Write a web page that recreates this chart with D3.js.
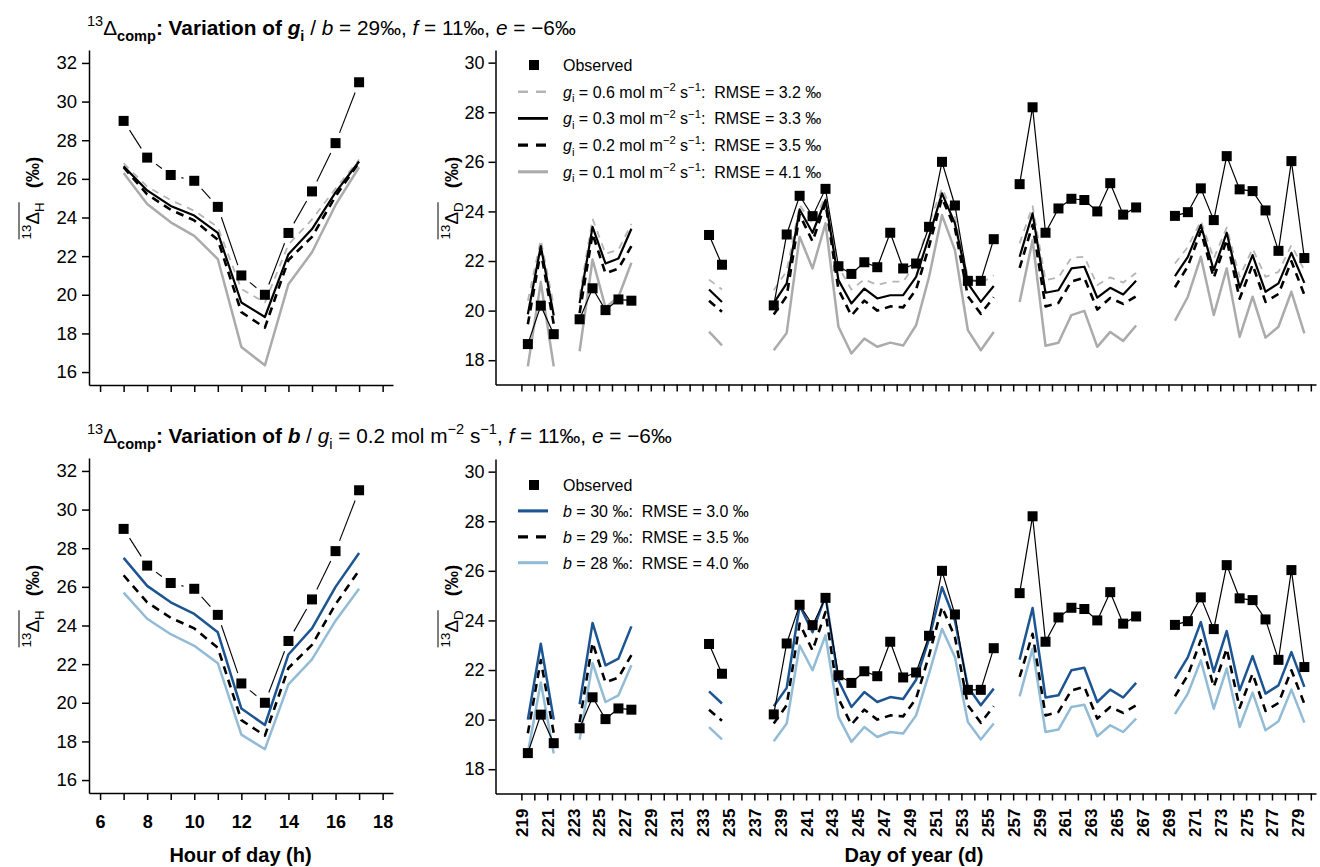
<!DOCTYPE html>
<html>
<head>
<meta charset="utf-8">
<script src="https://cdn.jsdelivr.net/npm/d3@7"></script>
<style>
  body { margin: 0; background: #fff; }
  svg { font-family: "Liberation Sans", Arial, sans-serif; }
  text { white-space: pre; }
</style>
</head>
<body>
<svg id="chart" width="1320" height="867"></svg>
<script>
// ---- data: hourly means ----
var hours = [7, 8, 9, 10, 11, 12, 13, 14, 15, 16, 17];
var obsHour  = [29.0, 27.1, 26.2, 25.9, 24.55, 21.0, 20.0, 23.2, 25.35, 27.85, 31.0];
var gi06Hour = [26.8, 25.6, 24.9, 24.35, 23.5, 20.3, 19.6, 22.6, 23.9, 25.5, 27.0];
var gi03Hour = [26.65, 25.4, 24.6, 24.1, 23.2, 19.6, 18.85, 22.1, 23.4, 25.3, 26.9];
var gi02Hour = [26.6, 25.2, 24.4, 23.85, 22.85, 19.1, 18.3, 21.8, 23.0, 25.1, 26.85];
var gi01Hour = [26.3, 24.7, 23.75, 23.05, 21.85, 17.3, 16.35, 20.55, 22.2, 24.65, 26.6];
var b30Hour  = [27.5, 26.05, 25.2, 24.6, 23.65, 19.7, 18.85, 22.5, 23.85, 26.0, 27.75];
var b29Hour  = gi02Hour; // same run (gi = 0.2, b = 29)
var b28Hour  = [25.7, 24.35, 23.55, 22.95, 22.05, 18.35, 17.6, 20.95, 22.25, 24.25, 25.9];

// ---- data: daily means ----
var days = [219, 220, 221,
  223, 224, 225, 226, 227,
  233, 234,
  238, 239, 240, 241, 242, 243, 244, 245, 246, 247, 248, 249, 250, 251, 252, 253, 254, 255,
  257, 258, 259, 260, 261, 262, 263, 264, 265, 266,
  269, 270, 271, 272, 273, 274, 275, 276, 277, 278, 279];
var obsDay = [18.65, 20.2, 19.05,
  19.65, 20.9, 20.02, 20.45, 20.4,
  23.05, 21.85,
  20.21, 23.07, 24.63, 23.81, 24.91, 21.79, 21.48, 21.95, 21.75, 23.14, 21.7, 21.9, 23.38, 26.0, 24.24, 21.2, 21.2, 22.88,
  25.1, 28.2, 23.14, 24.12, 24.51, 24.46, 24.0, 25.14, 23.87, 24.16,
  23.82, 23.97, 24.93, 23.65, 26.23, 24.89, 24.82, 24.04, 22.41, 26.03, 22.12];
var gi06Day = [20.4, 22.85, 20.2,
  20.6, 23.7, 22.3, 22.45, 23.5,
  21.25, 20.85,
  20.82, 21.6, 24.25, 23.52, 24.6, 21.77, 20.85, 21.26, 21.03, 21.17, 21.17, 21.9, 23.52, 24.93, 23.78, 21.36, 21.1, 21.43,
  22.71, 24.21, 21.23, 21.34, 22.13, 22.17, 21.03, 21.34, 21.13, 21.52,
  21.9, 22.57, 23.62, 22.1, 23.35, 21.36, 22.5, 21.36, 21.56, 22.64, 21.63];
var gi03Day = [19.85, 22.6, 19.8,
  20.3, 23.38, 21.9, 22.1, 23.3,
  20.85, 20.35,
  20.3, 21.1, 24.08, 23.14, 24.46, 21.23, 20.29, 20.89, 20.49, 20.62, 20.62, 21.36, 22.98, 24.73, 23.52, 21.1, 20.35, 20.99,
  22.17, 23.92, 20.72, 20.82, 21.7, 21.77, 20.52, 20.92, 20.65, 21.2,
  21.39, 22.17, 23.45, 21.63, 23.14, 20.93, 22.24, 20.76, 21.1, 22.33, 21.12];
var gi02Day = [19.45, 22.4, 19.45,
  19.9, 23.1, 21.5, 21.7, 22.6,
  20.4, 19.95,
  19.84, 20.58, 23.87, 22.79, 24.34, 20.85, 19.8, 20.4, 20.0, 20.17, 20.13, 20.85, 22.59, 24.54, 23.33, 20.58, 19.87, 20.54,
  21.72, 23.46, 20.17, 20.31, 21.18, 21.32, 20.04, 20.51, 20.27, 20.58,
  20.94, 21.79, 23.2, 21.32, 22.86, 20.48, 21.85, 20.35, 20.67, 21.99, 20.64];
var gi01Day = [17.75, 21.15, 17.75,
  18.36, 22.06, 20.13, 20.55, 21.93,
  19.15, 18.6,
  18.4, 19.1, 22.98, 21.7, 23.52, 19.35, 18.27, 18.87, 18.54, 18.71, 18.59, 19.41, 21.36, 23.85, 22.44, 19.21, 18.4, 19.14,
  20.35, 22.84, 18.58, 18.7, 19.82, 19.99, 18.54, 19.14, 18.78, 19.4,
  19.59, 20.56, 22.17, 19.82, 21.7, 18.94, 20.56, 18.91, 19.35, 20.76, 19.08];
var b30Day = [20.0, 23.06, 20.0,
  20.62, 23.9, 22.19, 22.46, 23.76,
  21.14, 20.65,
  20.54, 21.28, 24.6, 23.53, 25.0, 21.58, 20.51, 21.11, 20.71, 20.91, 20.83, 21.61, 23.26, 25.34, 24.0, 21.32, 20.58, 21.25,
  22.42, 24.5, 20.89, 20.98, 21.99, 22.09, 20.71, 21.21, 20.89, 21.48,
  21.65, 22.52, 23.93, 21.92, 23.57, 21.18, 22.56, 21.05, 21.38, 22.72, 21.32];
var b29Day = gi02Day;
var b28Day = [18.66, 21.5, 18.63,
  19.2, 22.28, 20.71, 20.98, 22.19,
  19.7, 19.2,
  19.13, 19.84, 22.99, 21.99, 23.4, 20.11, 19.1, 19.7, 19.3, 19.5, 19.44, 20.17, 21.85, 23.66, 22.52, 19.9, 19.2, 19.84,
  20.94, 22.86, 19.5, 19.6, 20.51, 20.6, 19.33, 19.77, 19.5, 20.04,
  20.22, 21.05, 22.39, 20.44, 22.06, 19.7, 21.09, 19.57, 19.93, 21.21, 19.88];

// ---- ticks & legend text ----
var hourTicks = [6, 7, 8, 9, 10, 11, 12, 13, 14, 15, 16, 17, 18];
var hourLabels = [6, 8, 10, 12, 14, 16, 18];
var hourYTicks = [16, 18, 20, 22, 24, 26, 28, 30, 32];
var dayTicks = [219, 220, 221, 222, 223, 224, 225, 226, 227, 228, 229, 230, 231, 232, 233, 234, 235, 236, 237, 238, 239,
  240, 241, 242, 243, 244, 245, 246, 247, 248, 249, 250, 251, 252, 253, 254, 255, 256, 257, 258, 259, 260,
  261, 262, 263, 264, 265, 266, 267, 268, 269, 270, 271, 272, 273, 274, 275, 276, 277, 278, 279, 280];
var dayLabels = [219, 221, 223, 225, 227, 229, 231, 233, 235, 237, 239, 241, 243, 245, 247, 249, 251, 253, 255,
  257, 259, 261, 263, 265, 267, 269, 271, 273, 275, 277, 279];
var dayYTicks = [18, 20, 22, 24, 26, 28, 30];
var giValues = ['0.6', '0.3', '0.2', '0.1'];
var giRmse = ['3.2', '3.3', '3.5', '4.1'];
var bValues = ['30', '29', '28'];
var bRmse = ['3.0', '3.5', '4.0'];

var styles = {
  gi06: { color: '#b5b5b5', width: 1.8, dash: '7,6' },
  gi03: { color: '#000', width: 2.2, dash: null },
  gi02: { color: '#000', width: 2.6, dash: '8,6' },
  gi01: { color: '#ababab', width: 2.5, dash: null },
  b30:  { color: '#1c5592', width: 2.5, dash: null },
  b28:  { color: '#92bcd6', width: 2.5, dash: null }
};

var svg = d3.select('#chart');

function rich(text, parts, size) {
  var cur = 0;
  parts.forEach(function(p) {
    var off = p.sup ? -0.42 * size : (p.sub ? 0.28 * size : 0);
    var ts = text.append('tspan').text(p.t).attr('dy', off - cur);
    cur = off;
    if (p.sup || p.sub) ts.attr('font-size', size * 0.7);
    if (p.b) ts.attr('font-weight', 'bold');
    if (p.i) ts.attr('font-style', 'italic');
  });
}

function styleAxis(ax, size, bold) {
  ax.selectAll('path, line').attr('stroke', '#000').attr('stroke-width', 1.5);
  ax.selectAll('text').attr('font-size', size).attr('fill', '#000')
    .attr('font-family', '"Liberation Sans", Arial, sans-serif')
    .attr('font-weight', bold ? 'bold' : 'normal');
}

function yTitle(x, yc, sub) {
  var fs = 19;
  var lab = svg.append('g').attr('transform', 'translate(' + x + ',' + yc + ') rotate(-90)');
  var t1 = lab.append('text').attr('font-size', fs);
  rich(t1, [{ t: '13', sup: 1 }, { t: 'Δ' }, { t: sub, sub: 1 }], fs);
  var w1 = t1.node().getComputedTextLength();
  var t2 = lab.append('text').attr('x', w1 + 14).attr('font-size', fs).attr('font-weight', 'bold').text('(‰)');
  var total = w1 + 14 + t2.node().getComputedTextLength();
  lab.selectAll('text').attr('transform', 'translate(' + (-total / 2) + ',0)');
  lab.append('line')
    .attr('x1', -total / 2).attr('x2', -total / 2 + w1)
    .attr('y1', -fs - 1).attr('y2', -fs - 1)
    .attr('stroke', '#000').attr('stroke-width', 1);
}

function gapSegments(pts, gap) {
  var out = [];
  for (var i = 1; i < pts.length; i++) {
    var x1 = pts[i - 1][0], y1 = pts[i - 1][1], x2 = pts[i][0], y2 = pts[i][1];
    var L = Math.hypot(x2 - x1, y2 - y1);
    if (L <= 2 * gap) continue;
    var ux = (x2 - x1) / L, uy = (y2 - y1) / L;
    out.push([x1 + ux * gap, y1 + uy * gap, x2 - ux * gap, y2 - uy * gap]);
  }
  return out;
}

function squares(g, pts, size) {
  g.selectAll(null).data(pts).enter().append('rect')
    .attr('x', function(d) { return d[0] - size / 2; })
    .attr('y', function(d) { return d[1] - size / 2; })
    .attr('width', size).attr('height', size)
    .attr('fill', '#000');
}

function drawHourPanel(top, models, showLabels) {
  var x = d3.scaleLinear().domain([5.53, 18.44]).range([89, 393]);
  var y = d3.scaleLinear().domain([15.33, 32.67]).range([top + 335, top]);
  var g = svg.append('g');

  var xa = g.append('g').attr('transform', 'translate(0,' + (top + 335) + ')')
    .call(d3.axisBottom(x).tickValues(hourTicks).tickSize(7).tickSizeOuter(0).tickPadding(15)
      .tickFormat(function(d) { return showLabels && hourLabels.indexOf(d) >= 0 ? d : ''; }));
  styleAxis(xa, 18, true);
  var ya = g.append('g').attr('transform', 'translate(89,0)')
    .call(d3.axisLeft(y).tickValues(hourYTicks).tickSize(7).tickSizeOuter(0).tickPadding(5));
  styleAxis(ya, 18.5, false);

  var line = d3.line().x(function(d, i) { return x(hours[i]); }).y(function(d) { return y(d); });
  models.forEach(function(m) {
    var s = styles[m.key];
    g.append('path').attr('d', line(m.values)).attr('fill', 'none')
      .attr('stroke', s.color).attr('stroke-width', s.width)
      .attr('stroke-dasharray', s.dash).attr('stroke-linejoin', 'round');
  });

  var pts = obsHour.map(function(v, i) { return [x(hours[i]), y(v)]; });
  g.selectAll(null).data(gapSegments(pts, 11)).enter().append('line')
    .attr('x1', function(d) { return d[0]; }).attr('y1', function(d) { return d[1]; })
    .attr('x2', function(d) { return d[2]; }).attr('y2', function(d) { return d[3]; })
    .attr('stroke', '#000').attr('stroke-width', 1.1);
  squares(g, pts, 10);
}

function splitSegments(values) {
  var segs = [], cur = [];
  days.forEach(function(d, i) {
    if (i > 0 && d - days[i - 1] > 1) { segs.push(cur); cur = []; }
    cur.push([d, values[i]]);
  });
  segs.push(cur);
  return segs;
}

function drawDayPanel(top, models, showLabels) {
  var x = d3.scaleLinear().domain([217, 280.4]).range([495.5, 1316]);
  var y = d3.scaleLinear().domain([17.02, 30.51]).range([top + 334.5, top]);
  var g = svg.append('g');

  var xa = g.append('g').attr('transform', 'translate(0,' + (top + 334.5) + ')')
    .call(d3.axisBottom(x).tickValues(dayTicks).tickSize(7).tickSizeOuter(0)
      .tickFormat(function(d) { return showLabels && dayLabels.indexOf(d) >= 0 ? d : ''; }));
  styleAxis(xa, 17, true);
  xa.selectAll('text').attr('transform', 'rotate(-90)').attr('x', -15).attr('y', 0)
    .attr('dy', '0.35em').attr('text-anchor', 'end');
  var ya = g.append('g').attr('transform', 'translate(495.5,0)')
    .call(d3.axisLeft(y).tickValues(dayYTicks).tickSize(7).tickSizeOuter(0).tickPadding(4));
  styleAxis(ya, 18, false);

  var line = d3.line().x(function(d) { return x(d[0] + 0.5); }).y(function(d) { return y(d[1]); });
  models.forEach(function(m) {
    var s = styles[m.key];
    splitSegments(m.values).forEach(function(seg) {
      g.append('path').attr('d', line(seg)).attr('fill', 'none')
        .attr('stroke', s.color).attr('stroke-width', s.width)
        .attr('stroke-dasharray', s.dash).attr('stroke-linejoin', 'round');
    });
  });
  splitSegments(obsDay).forEach(function(seg) {
    g.append('path').attr('d', line(seg)).attr('fill', 'none')
      .attr('stroke', '#000').attr('stroke-width', 1.2);
  });
  squares(g, obsDay.map(function(v, i) { return [x(days[i] + 0.5), y(v)]; }), 10);
}

function legend(x0, y0, step, rows) {
  var g = svg.append('g');
  rows.forEach(function(r, i) {
    var yy = y0 + i * step;
    if (r.marker) {
      g.append('rect').attr('x', x0 + 16 - 5).attr('y', yy - 5).attr('width', 10).attr('height', 10).attr('fill', '#000');
    } else {
      var s = styles[r.key];
      g.append('line').attr('x1', x0).attr('x2', x0 + 30).attr('y1', yy).attr('y2', yy)
        .attr('stroke', s.color).attr('stroke-width', s.width + 0.6)
        .attr('stroke-dasharray', s.dash ? '10,8' : null);
    }
    var t = g.append('text').attr('x', x0 + 45).attr('y', yy + 6).attr('font-size', 16);
    rich(t, r.parts, 16);
  });
}

function title(x0, y0, parts) {
  var t = svg.append('text').attr('x', x0).attr('y', y0).attr('font-size', 20.8);
  rich(t, parts, 20.8);
}

// ---- titles ----
title(87, 35, [{ t: '13', sup: 1 }, { t: 'Δ' }, { t: 'comp', sub: 1, b: 1 }, { t: ': Variation of ', b: 1 },
  { t: 'g', b: 1, i: 1 }, { t: 'i', sub: 1, b: 1 }, { t: ' / ' }, { t: 'b', i: 1 }, { t: ' = 29‰, ' },
  { t: 'f', i: 1 }, { t: ' = 11‰, ' }, { t: 'e', i: 1 }, { t: ' = −6‰' }]);
title(87, 443, [{ t: '13', sup: 1 }, { t: 'Δ' }, { t: 'comp', sub: 1, b: 1 }, { t: ': Variation of ', b: 1 },
  { t: 'b', b: 1, i: 1 }, { t: ' / ' }, { t: 'g', i: 1 }, { t: 'i', sub: 1 }, { t: ' = 0.2 mol m' },
  { t: '−2', sup: 1 }, { t: ' s' }, { t: '−1', sup: 1 }, { t: ', ' }, { t: 'f', i: 1 }, { t: ' = 11‰, ' },
  { t: 'e', i: 1 }, { t: ' = −6‰' }]);

// ---- panels ----
var giModels = [
  { key: 'gi06', hour: gi06Hour, day: gi06Day },
  { key: 'gi03', hour: gi03Hour, day: gi03Day },
  { key: 'gi02', hour: gi02Hour, day: gi02Day },
  { key: 'gi01', hour: gi01Hour, day: gi01Day }
];
var bModels = [
  { key: 'b28', hour: b28Hour, day: b28Day },
  { key: 'gi02', hour: b29Hour, day: b29Day },
  { key: 'b30', hour: b30Hour, day: b30Day }
];

drawHourPanel(50, giModels.map(function(m) { return { key: m.key, values: m.hour }; }), false);
drawHourPanel(458, bModels.map(function(m) { return { key: m.key, values: m.hour }; }), true);
drawDayPanel(50, giModels.map(function(m) { return { key: m.key, values: m.day }; }), false);
drawDayPanel(459, bModels.map(function(m) { return { key: m.key, values: m.day }; }), true);

yTitle(39, 198, 'H');
yTitle(458, 198, 'D');
yTitle(39, 606, 'H');
yTitle(458, 606, 'D');

// ---- axis titles ----
svg.append('text').attr('x', 240.5).attr('y', 862).attr('text-anchor', 'middle')
  .attr('font-size', 20).attr('font-weight', 'bold').text('Hour of day (h)');
svg.append('text').attr('x', 914).attr('y', 862).attr('text-anchor', 'middle')
  .attr('font-size', 20).attr('font-weight', 'bold').text('Day of year (d)');

// ---- legends ----
var giRows = [{ marker: true, parts: [{ t: 'Observed' }] }];
['gi06', 'gi03', 'gi02', 'gi01'].forEach(function(k, i) {
  giRows.push({ key: k, parts: [{ t: 'g', i: 1 }, { t: 'i', sub: 1 }, { t: ' = ' + giValues[i] + ' mol m' },
    { t: '−2', sup: 1 }, { t: ' s' }, { t: '−1', sup: 1 }, { t: ':  RMSE = ' + giRmse[i] + ' ‰' }] });
});
legend(518, 65, 26.7, giRows);

var bRows = [{ marker: true, parts: [{ t: 'Observed' }] }];
['b30', 'gi02', 'b28'].forEach(function(k, i) {
  bRows.push({ key: k, parts: [{ t: 'b', i: 1 }, { t: ' = ' + bValues[i] + ' ‰:  RMSE = ' + bRmse[i] + ' ‰' }] });
});
legend(518, 485, 25.9, bRows);
</script>
</body>
</html>
